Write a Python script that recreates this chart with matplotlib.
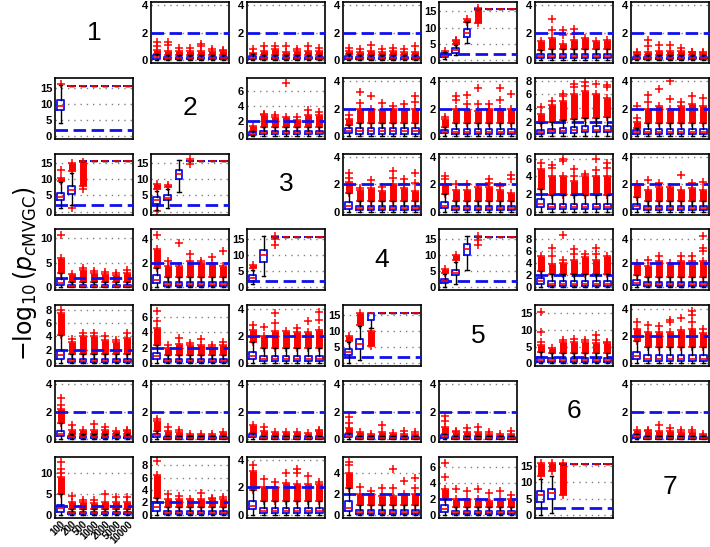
import numpy as np
import matplotlib.pyplot as plt

plt.rcParams['font.family'] = ['Liberation Sans', 'DejaVu Sans']

# sample sizes on the x axis of every panel
sizes = ['100', '200', '500', '1000', '2000', '5000', '10000']
CAP = 15.65          # -log10 of the smallest p value
THR = 2.0            # significance threshold
C = (CAP, CAP, CAP, CAP, CAP)   # box collapsed on the cap

# top of the y axis for each panel (row, col)
ytop = {
    (0, 1): 4.25, (0, 2): 4.25, (0, 3): 4.25, (0, 4): 17.9, (0, 5): 4.25, (0, 6): 4.25,
    (1, 0): 18.2, (1, 2): 7.8, (1, 3): 4.25, (1, 4): 4.25, (1, 5): 8.4, (1, 6): 4.25,
    (2, 0): 17.9, (2, 1): 17.9, (2, 3): 4.25, (2, 4): 4.25, (2, 5): 6.6, (2, 6): 4.25,
    (3, 0): 11.8, (3, 1): 4.84, (3, 2): 17.9, (3, 4): 17.9, (3, 5): 9.6, (3, 6): 4.84,
    (4, 0): 8.64, (4, 1): 7.5, (4, 2): 4.3, (4, 3): 18.0, (4, 5): 17.5, (4, 6): 4.25,
    (5, 0): 4.25, (5, 1): 4.25, (5, 2): 4.25, (5, 3): 4.25, (5, 4): 4.25, (5, 6): 4.25,
    (6, 0): 13.8, (6, 1): 9.36, (6, 2): 4.2, (6, 3): 5.5, (6, 4): 7.27, (6, 5): 17.9,
}

# (whisker low, q1, median, q3, whisker high) for the 7 sample sizes
boxes = {
    (0, 1): [(0, 0.1, 0.2, 0.35, 0.45)] + [(0, 0.05, 0.12, 0.2, 0.35)] * 6,
    (0, 2): [(0, 0.05, 0.15, 0.3, 0.45)] + [(0, 0.05, 0.12, 0.2, 0.35)] * 6,
    (0, 3): [(0, 0.05, 0.15, 0.3, 0.45)] + [(0, 0.05, 0.12, 0.2, 0.35)] * 6,
    (0, 4): [(0.3, 0.9, 1.4, 2.1, 2.6), (1.5, 2.3, 3.0, 3.8, 4.6),
             (5.2, 7.2, 8.3, 9.5, 11.6), C, C, C, C],
    (0, 5): [(0, 0.15, 0.28, 0.45, 0.75)] + [(0, 0.12, 0.27, 0.42, 0.8)] * 6,
    (0, 6): [(0, 0.05, 0.12, 0.2, 0.35)] * 7,
    (1, 0): [(4.0, 8.2, 9.5, 11.2, 15.8), C, C, C, C, C, C],
    (1, 2): [(0, 0.15, 0.3, 0.5, 0.6)] + [(0, 0.2, 0.4, 0.65, 1.2)] * 6,
    (1, 3): [(0, 0.2, 0.35, 0.55, 0.8)] + [(0, 0.15, 0.35, 0.55, 0.95)] * 6,
    (1, 4): [(0, 0.2, 0.3, 0.45, 0.65)] + [(0, 0.15, 0.3, 0.5, 0.95)] * 6,
    (1, 5): [(0, 0.3, 0.6, 0.9, 1.8), (0, 0.35, 0.7, 1.0, 2.0), (0, 0.4, 0.7, 1.2, 2.3),
             (0, 0.4, 0.8, 1.3, 2.5), (0, 0.5, 0.9, 1.4, 2.6), (0, 0.5, 0.9, 1.4, 2.6),
             (0, 0.5, 0.9, 1.5, 2.7)],
    (1, 6): [(0, 0.15, 0.3, 0.45, 0.6)] + [(0, 0.15, 0.3, 0.5, 0.95)] * 6,
    (2, 0): [(1.0, 3.5, 4.5, 5.8, 9.0), (2.0, 5.5, 6.8, 8.0, 12.0), C, C, C, C, C],
    (2, 1): [(0.5, 2.5, 3.7, 4.5, 6.5), (1.0, 3.5, 4.3, 5.0, 7.0),
             (6.0, 10.0, 11.5, 13.0, 16.0), C, C, C, C],
    (2, 3): [(0, 0.2, 0.45, 0.7, 1.4)] + [(0, 0.1, 0.25, 0.4, 0.8)] * 6,
    (2, 4): [(0, 0.3, 0.45, 0.7, 1.3)] + [(0, 0.1, 0.25, 0.4, 0.8)] * 6,
    (2, 5): [(0, 0.5, 0.9, 1.4, 2.6)] + [(0, 0.25, 0.5, 0.9, 1.9)] * 6,
    (2, 6): [(0, 0.2, 0.4, 0.55, 1.1)] + [(0, 0.1, 0.25, 0.4, 0.8)] * 6,
    (3, 0): [(0, 0.5, 1.0, 1.8, 3.0)] + [(0, 0.15, 0.3, 0.6, 1.2)] * 6,
    (3, 1): [(0, 0.35, 0.6, 1.0, 1.6)] + [(0, 0.1, 0.25, 0.45, 0.9)] * 6,
    (3, 2): [(1.0, 2.0, 3.0, 4.0, 5.5), (3.5, 8.0, 10.0, 11.5, 16.0), C, C, C, C, C],
    (3, 4): [(0.0, 1.5, 2.0, 2.5, 4.2), (1.0, 3.8, 4.5, 5.5, 8.0),
             (5.5, 10.0, 12.0, 13.5, 16.0), C, C, C, C],
    (3, 5): [(0, 0.5, 1.0, 1.6, 2.8)] + [(0, 0.2, 0.6, 1.1, 2.2)] * 6,
    (3, 6): [(0, 0.2, 0.4, 0.65, 1.0)] + [(0, 0.1, 0.25, 0.45, 0.9)] * 6,
    (4, 0): [(0, 0.6, 1.2, 2.0, 4.2)] + [(0, 0.2, 0.4, 0.7, 1.4)] * 6,
    (4, 1): [(0, 0.5, 0.9, 1.3, 2.4)] + [(0, 0.15, 0.3, 0.55, 1.1)] * 6,
    (4, 2): [(0, 0.35, 0.55, 0.85, 1.6)] + [(0, 0.15, 0.35, 0.55, 1.1)] * 6,
    (4, 3): [(0, 2.5, 3.5, 4.5, 6.5), (1.0, 4.5, 6.0, 7.5, 11.5),
             (11.0, 13.5, CAP, CAP, CAP), C, C, C, C],
    (4, 5): [(0, 0.5, 1.0, 1.8, 3.5)] + [(0, 0.4, 0.9, 1.5, 3.0)] * 6,
    (4, 6): [(0, 0.3, 0.5, 0.85, 1.6)] + [(0, 0.15, 0.35, 0.6, 1.2)] * 6,
    (5, 0): [(0, 0.25, 0.4, 0.6, 1.2)] + [(0, 0.05, 0.12, 0.2, 0.35)] * 6,
    (5, 1): [(0, 0.15, 0.3, 0.4, 0.6)] + [(0, 0.03, 0.08, 0.15, 0.25)] * 6,
    (5, 2): [(0, 0.15, 0.25, 0.35, 0.45)] + [(0, 0.03, 0.08, 0.15, 0.25)] * 6,
    (5, 3): [(0, 0.15, 0.25, 0.35, 0.45)] + [(0, 0.03, 0.08, 0.15, 0.25)] * 6,
    (5, 4): [(0, 0.1, 0.2, 0.3, 0.4)] + [(0, 0.03, 0.08, 0.15, 0.25)] * 6,
    (5, 6): [(0, 0.1, 0.2, 0.3, 0.4)] + [(0, 0.03, 0.08, 0.15, 0.25)] * 6,
    (6, 0): [(0, 0.8, 1.7, 2.4, 5.0)] + [(0, 0.2, 0.4, 0.7, 1.3)] * 6,
    (6, 1): [(0, 0.7, 1.2, 2.0, 2.8)] + [(0, 0.2, 0.35, 0.6, 1.2)] * 6,
    (6, 2): [(0, 0.4, 0.65, 1.0, 1.8)] + [(0, 0.15, 0.3, 0.5, 1.0)] * 6,
    (6, 3): [(0, 0.4, 0.7, 1.3, 2.5)] + [(0, 0.1, 0.25, 0.45, 0.9)] * 6,
    (6, 4): [(0, 0.4, 0.8, 1.2, 2.0)] + [(0, 0.15, 0.3, 0.5, 1.0)] * 6,
    (6, 5): [(0, 4.0, 6.0, 7.5, 11.0), (0.5, 4.8, 6.8, 8.0, 12.0), C, C, C, C, C],
}

# crowded outliers: a number is the top of a cluster starting at the whisker,
# a pair is (low, high) of the cluster, None means no cluster
dense = {
    (0, 1): [0.75, 0.65, 0.65, 0.7, 0.7, 0.7, 0.65],
    (0, 2): [0.5, 0.7, 0.8, 0.6, 0.7, 0.7, 0.7],
    (0, 3): [0.7, 0.6, 0.7, 0.6, 0.7, 0.6, 0.6],
    (0, 4): [None, (4.9, 6.0), (11.8, 12.8), (11.5, 15.3), None, None, None],
    (0, 5): [1.4, 1.6, 1.2, 1.5, 1.6, 1.4, 1.5],
    (0, 6): [0.5, 0.6, 0.7, 0.7, 0.7, 0.6, 0.5],
    (1, 0): [None] * 7,
    (1, 2): [1.3, 2.8, 2.5, 2.5, 2.2, 2.8, 2.8],
    (1, 3): [1.2, 2.0, 2.0, 1.9, 2.0, 2.0, 2.0],
    (1, 4): [1.2, 2.0, 1.9, 1.8, 2.0, 2.0, 2.0],
    (1, 5): [3.2, 4.5, 5.0, 6.0, 6.5, 6.0, 5.5],
    (1, 6): [1.0, 2.0, 2.2, 2.0, 2.2, 2.3, 2.2],
    (2, 0): [(9.5, 10.5), (12.5, 15.0), (8.0, 15.3), None, None, None, None],
    (2, 1): [(7.0, 8.5), (7.5, 8.2), None, None, None, None, None],
    (2, 3): [2.2, 1.6, 1.7, 1.5, 2.0, 1.7, 1.5],
    (2, 4): [2.0, 1.6, 1.6, 1.8, 1.8, 1.6, 1.4],
    (2, 5): [4.8, 4.0, 4.0, 3.5, 4.0, 4.0, 4.0],
    (2, 6): [2.0, 1.6, 1.8, 1.8, 1.6, 1.7, 1.6],
    (3, 0): [6.0, 2.7, 3.5, 3.0, 2.8, 2.5, 3.0],
    (3, 1): [3.2, 1.8, 1.8, 2.2, 2.0, 2.0, 1.8],
    (3, 2): [(6.0, 7.0), None, None, None, None, None, None],
    (3, 4): [(4.6, 5.8), (8.5, 10.0), None, None, None, None, None],
    (3, 5): [5.2, 3.8, 4.0, 4.5, 5.0, 4.5, 5.2],
    (3, 6): [2.0, 1.8, 2.2, 2.0, 2.2, 2.2, 2.2],
    (4, 0): [7.5, 3.2, 4.0, 4.0, 3.5, 3.2, 3.8],
    (4, 1): [4.5, 2.0, 2.5, 2.3, 2.3, 2.1, 2.3],
    (4, 2): [2.5, 2.0, 2.4, 2.4, 2.3, 2.3, 2.5],
    (4, 3): [(7.0, 8.5), (12.0, 15.5), (5.5, 10.0), None, None, None, None],
    (4, 5): [5.5, 4.5, 6.5, 6.5, 6.5, 6.0, 6.0],
    (4, 6): [2.5, 2.3, 2.3, 2.3, 2.4, 2.5, 2.2],
    (5, 0): [2.2, 0.7, 0.7, 0.7, 0.7, 0.6, 0.6],
    (5, 1): [1.3, 0.6, 0.5, 0.4, 0.4, 0.4, 0.5],
    (5, 2): [1.0, 0.6, 0.5, 0.5, 0.5, 0.45, 0.6],
    (5, 3): [0.8, 0.5, 0.4, 0.5, 0.45, 0.4, 0.4],
    (5, 4): [0.9, 0.5, 0.5, 0.5, 0.4, 0.4, 0.4],
    (5, 6): [0.7, 0.6, 0.6, 0.6, 0.5, 0.5, 0.4],
    (6, 0): [9.0, 3.0, 3.0, 2.8, 3.0, 3.0, 3.0],
    (6, 1): [6.5, 2.5, 2.5, 2.5, 2.5, 2.5, 2.5],
    (6, 2): [3.2, 2.0, 2.0, 2.3, 2.2, 2.2, 2.2],
    (6, 3): [4.0, 2.0, 2.0, 1.8, 1.8, 2.0, 2.0],
    (6, 4): [3.2, 2.0, 2.0, 2.0, 1.8, 2.0, 2.0],
    (6, 5): [(12.0, 16.0), (13.5, 16.0), (6.0, 16.0), None, None, None, None],
}

# single outliers
sparse = {
    (0, 1): [[1.0, 1.3], [1.1, 1.3], [0.9], [0.9], [1.0, 1.2], [0.8], [0.75]],
    (0, 2): [[0.8], [1.0], [1.0], [1.0], [0.8], [1.0], [0.9]],
    (0, 3): [[0.9], [0.8], [1.1], [0.8], [0.9], [0.8], [1.0]],
    (0, 4): [[2.9], [6.3], [], [16.0], [], [], []],
    (0, 5): [[], [2.2, 3.0], [1.8, 2.2], [1.9, 2.3], [], [], []],
    (0, 6): [[0.6], [1.0, 1.5], [1.1], [1.1], [0.9], [0.6], [0.6]],
    (1, 0): [[16.2], [], [], [], [], [], []],
    (1, 2): [[], [3.0], [2.8], [7.1], [2.5], [3.5], [3.2]],
    (1, 3): [[1.5], [2.4, 3.2], [2.9], [2.4], [2.2], [2.3], [2.5, 2.9]],
    (1, 4): [[1.4], [2.6, 2.9], [2.3, 3.0], [2.3, 3.5], [2.3], [2.6, 3.5], [3.1]],
    (1, 5): [[4.2], [5.0], [5.7, 6.0], [7.0, 7.5], [7.2, 7.8], [7.5], [7.0, 7.3]],
    (1, 6): [[1.3, 2.2], [2.5, 3.0], [3.4], [2.7, 4.0], [2.5], [2.9], [2.8]],
    (2, 0): [[13.0], [1.0], [7.0], [], [], [], []],
    (2, 1): [[0.2], [], [], [14.8, 16.2], [], [], []],
    (2, 3): [[2.5, 2.8], [1.7], [2.3], [1.8], [2.5, 3.0], [2.0, 2.4], [2.1, 2.8]],
    (2, 4): [[2.4, 2.6], [2.0], [2.0], [], [2.1, 2.4], [1.9], [2.4, 2.7]],
    (2, 5): [[5.5], [5.0, 5.3], [5.8, 6.0], [4.0, 4.8], [4.3], [4.7, 6.0], [5.0, 5.5]],
    (2, 6): [[], [2.3], [2.1], [], [2.7], [2.1], [2.2]],
    (3, 0): [[10.7], [], [4.0], [3.4], [3.2], [3.0], [3.6]],
    (3, 1): [[4.4], [2.2], [3.7], [2.8], [2.2], [2.5], [3.0]],
    (3, 2): [[], [], [13.0, 15.0, 16.0], [], [], [], []],
    (3, 4): [[], [], [], [13.0, 14.5, 16.0], [], [], []],
    (3, 5): [[], [5.2, 6.5], [4.5, 8.7], [5.5, 6.3], [5.5], [5.5, 6.5], []],
    (3, 6): [[], [2.3], [2.6], [], [2.6], [2.6], [3.0, 3.3, 4.3]],
    (4, 0): [[8.0], [3.6], [4.5], [4.5], [4.0], [3.5], [4.5]],
    (4, 1): [[5.5, 6.8], [2.3], [3.3], [2.6], [3.2], [2.3], [2.8]],
    (4, 2): [[2.8], [2.7], [3.0, 3.7], [], [2.6], [3.1], [3.2, 3.8]],
    (4, 3): [[], [], [], [], [], [], []],
    (4, 5): [[6.5, 9.5, 15.5], [], [7.0], [7.3], [7.0], [7.0, 8.5], [6.5]],
    (4, 6): [[3.0], [2.8], [2.7], [3.0, 3.2], [3.3], [3.0, 3.5, 3.8], [2.5]],
    (5, 0): [[2.5, 3.0], [1.0], [], [1.1], [0.9], [], [0.7]],
    (5, 1): [[1.5], [0.9], [0.7], [], [], [], []],
    (5, 2): [[], [0.9], [], [], [], [], [0.7]],
    (5, 3): [[1.2, 1.6], [], [], [1.0], [], [0.6], [0.5]],
    (5, 4): [[1.3, 1.7], [0.6], [0.8], [0.9], [0.5], [], [0.6]],
    (5, 6): [[], [0.7], [1.0], [0.8], [0.7], [0.7], []],
    (6, 0): [[10.0, 11.0, 12.5], [4.5], [3.5], [3.5], [5.0], [4.2], [4.2]],
    (6, 1): [[8.7], [3.3], [3.0], [], [3.5], [2.8], [2.9]],
    (6, 2): [[3.6], [2.6], [2.4], [3.0], [3.0, 3.3], [2.8], [2.4]],
    (6, 3): [[4.7, 5.0], [2.6], [2.3], [2.5], [2.5, 4.3], [3.2], [2.5, 3.5]],
    (6, 4): [[4.8, 6.5], [3.2], [3.0], [3.2], [2.8], [3.0], [2.5]],
    (6, 5): [[], [], [], [], [], [], []],
}

W, H = 710, 547
fig = plt.figure(figsize=(W / 100, H / 100), dpi=100)


def cell(r, c):
    left = 55 + 96 * c
    top = 2 + 75.8 * r
    return [left / W, 1 - (top + 61) / H, 78 / W, 61 / H]


pos = np.arange(1, 8)
for (r, c), yt in ytop.items():
    ax = fig.add_axes(cell(r, c))
    ax.set_xlim(0.5, 7.5)
    ax.set_ylim(-0.05 * yt, yt)
    step = 5 if yt > 10 else 2
    ticks = np.arange(0, yt, step)
    ax.set_yticks(ticks)
    ax.set_yticklabels(['%g' % t for t in ticks], fontsize=8, fontweight='bold')
    ax.tick_params(axis='y', length=0, pad=2)
    for t in ticks:
        ax.axhline(t, color='0.5', lw=1, ls=(0, (1, 3.5)), zorder=0)
    ax.axhline(THR, color='#1010ee', lw=2, ls=(0, (4.5, 2)), zorder=5)

    bx = boxes[(r, c)]
    for k in range(7):
        x = pos[k]
        d = dense[(r, c)][k]
        if d is not None:
            lo, hi = d if isinstance(d, tuple) else (bx[k][4], d)
            ax.vlines(x, lo, hi, color='red', lw=5, zorder=2)
            ax.plot([x, x], [lo, hi], '+', color='red', ms=6, mew=1.1, zorder=2)
        s = sparse[(r, c)][k]
        if s:
            ax.plot([x] * len(s), s, '+', color='red', ms=6, mew=1.1, zorder=2)

    stats = [dict(whislo=b[0], q1=b[1], med=b[2], q3=b[3], whishi=b[4], fliers=[]) for b in bx]
    ax.bxp(stats, positions=pos, widths=0.6, capwidths=0.3, showfliers=False,
           boxprops=dict(color='#1010ee', lw=1.3),
           medianprops=dict(color='red', lw=1.2),
           whiskerprops=dict(color='black', lw=1),
           capprops=dict(color='black', lw=1),
           manage_ticks=False, zorder=6)
    for sp in ax.spines.values():
        sp.set_linewidth(1.2)
    if (r, c) == (6, 0):
        ax.set_xticks(pos)
        ax.set_xticklabels(sizes, rotation=45, ha='right', va='top',
                           rotation_mode='anchor', fontsize=7, fontweight='bold')
        ax.tick_params(axis='x', length=0, pad=1)
    else:
        ax.set_xticks([])

# diagonal labels
for i in range(7):
    b = cell(i, i)
    fig.text(b[0] + b[2] / 2, b[1] + b[3] / 2, str(i + 1), fontsize=19,
             ha='center', va='center')

fig.text(0.035, 0.5, r'$-\log_{10}(p_{c\mathrm{MVGC}})$', rotation=90,
         ha='center', va='center', fontsize=17)

plt.savefig('out.png', dpi=100)
